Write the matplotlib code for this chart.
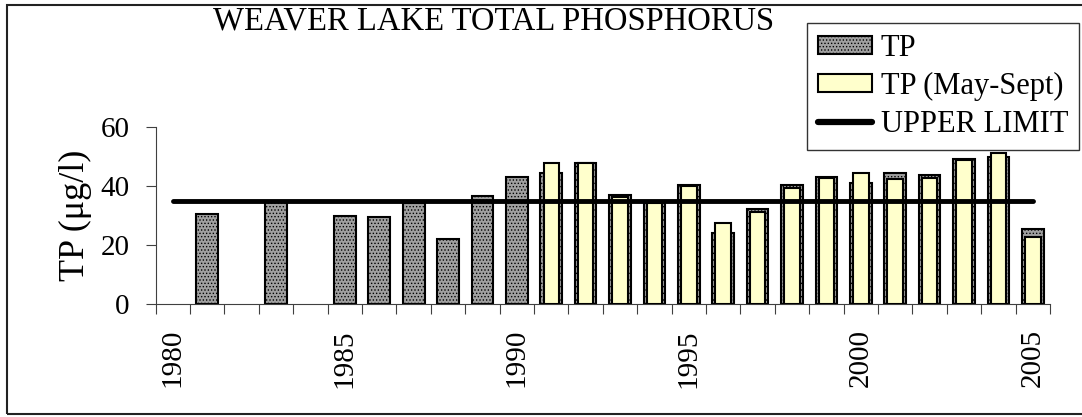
import numpy as np
import matplotlib
matplotlib.use("Agg")
import matplotlib.pyplot as plt
from matplotlib.patches import Rectangle, Patch
from matplotlib.lines import Line2D

plt.rcParams['font.family'] = ['Liberation Serif', 'DejaVu Serif']
plt.rcParams['hatch.linewidth'] = 0.6

years = list(range(1980, 2006))
tp = [np.nan, 30.6, np.nan, 34.5, np.nan, 30.0, 29.4, 34.3, 21.9, 36.7,
      42.9, 44.5, 47.9, 36.8, 34.3, 40.3, 24.0, 32.1, 40.2, 42.9,
      40.9, 44.4, 43.6, 49.2, 49.8, 25.3]
tp_may_sept = [np.nan] * 11 + [47.9, 47.8, 36.4, 34.2, 40.0, 27.3, 31.3, 39.2, 42.6,
                               44.3, 42.3, 42.6, 48.8, 51.1, 22.6]
upper_limit = 35
tick_label_years = [1980, 1985, 1990, 1995, 2000, 2005]

W, H = 1082, 417
fig = plt.figure(figsize=(W / 100, H / 100), dpi=100)
ax = fig.add_axes([155.7 / W, 1 - 304 / H, (1050 - 155.7) / W, (304 - 127) / H])

x = np.arange(len(years))
ax.bar(x, tp, width=0.63, facecolor='#a0a0a0', edgecolor='black', linewidth=1.5,
       hatch='.....', zorder=2)
ax.bar(x, tp_may_sept, width=0.45, facecolor='#ffffcc', edgecolor='black', linewidth=1.5,
       zorder=3)
ax.plot([x[0], x[-1]], [upper_limit, upper_limit], color='black', lw=3.5,
        solid_capstyle='round', zorder=4)

ax.set_xlim(-0.5, len(years) - 0.5)
ax.set_ylim(0, 60)
ax.set_yticks([0, 20, 40, 60])
ax.set_xticks(np.arange(-0.5, len(years), 1.0))
ax.set_xticklabels([])
lab_pos = [years.index(y) for y in tick_label_years]
ax.set_xticks(lab_pos, minor=True)
ax.set_xticklabels([str(y) for y in tick_label_years], minor=True, rotation=90,
                   fontsize=21)
ax.tick_params(axis='x', which='major', direction='out', length=7, width=0.8, color='#404040')
ax.tick_params(axis='x', which='minor', length=0, pad=18)
ax.tick_params(axis='y', direction='out', length=7, width=0.8, color='#404040',
               labelsize=21, pad=12)
for s in ['top', 'right']:
    ax.spines[s].set_visible(False)
for s in ['left', 'bottom']:
    ax.spines[s].set_color('#404040')
    ax.spines[s].set_linewidth(0.8)

ax.set_ylabel('TP (μg/l)', fontsize=26, labelpad=6)

fig.text(213 / W, 1 - 30 / H, 'WEAVER LAKE TOTAL PHOSPHORUS', fontsize=23.5,
         ha='left', va='baseline', zorder=1)

handles = [Patch(facecolor='#a0a0a0', edgecolor='black', linewidth=1.5, hatch='.....'),
           Patch(facecolor='#ffffcc', edgecolor='black', linewidth=1.5),
           Line2D([], [], color='black', lw=4.5, solid_capstyle='round')]
leg = fig.legend(handles, ['TP', 'TP (May-Sept)', 'UPPER LIMIT'],
                 loc='upper right', bbox_to_anchor=(1079 / W, 1 - 23 / H),
                 fontsize=22, frameon=True, fancybox=False, framealpha=1,
                 edgecolor='#333333', borderpad=0.35, borderaxespad=0,
                 handlelength=1.75, handleheight=0.5, handletextpad=0.3,
                 labelspacing=0.3)
leg.get_frame().set_linewidth(1.0)
leg.set_zorder(10)

fig.patches.append(Rectangle((7 / W, 3 / H), 1.2, (413 - 4) / H, transform=fig.transFigure,
                             fill=False, edgecolor='#222222', lw=1.5, zorder=0))

fig.savefig('out.png', dpi=100)
